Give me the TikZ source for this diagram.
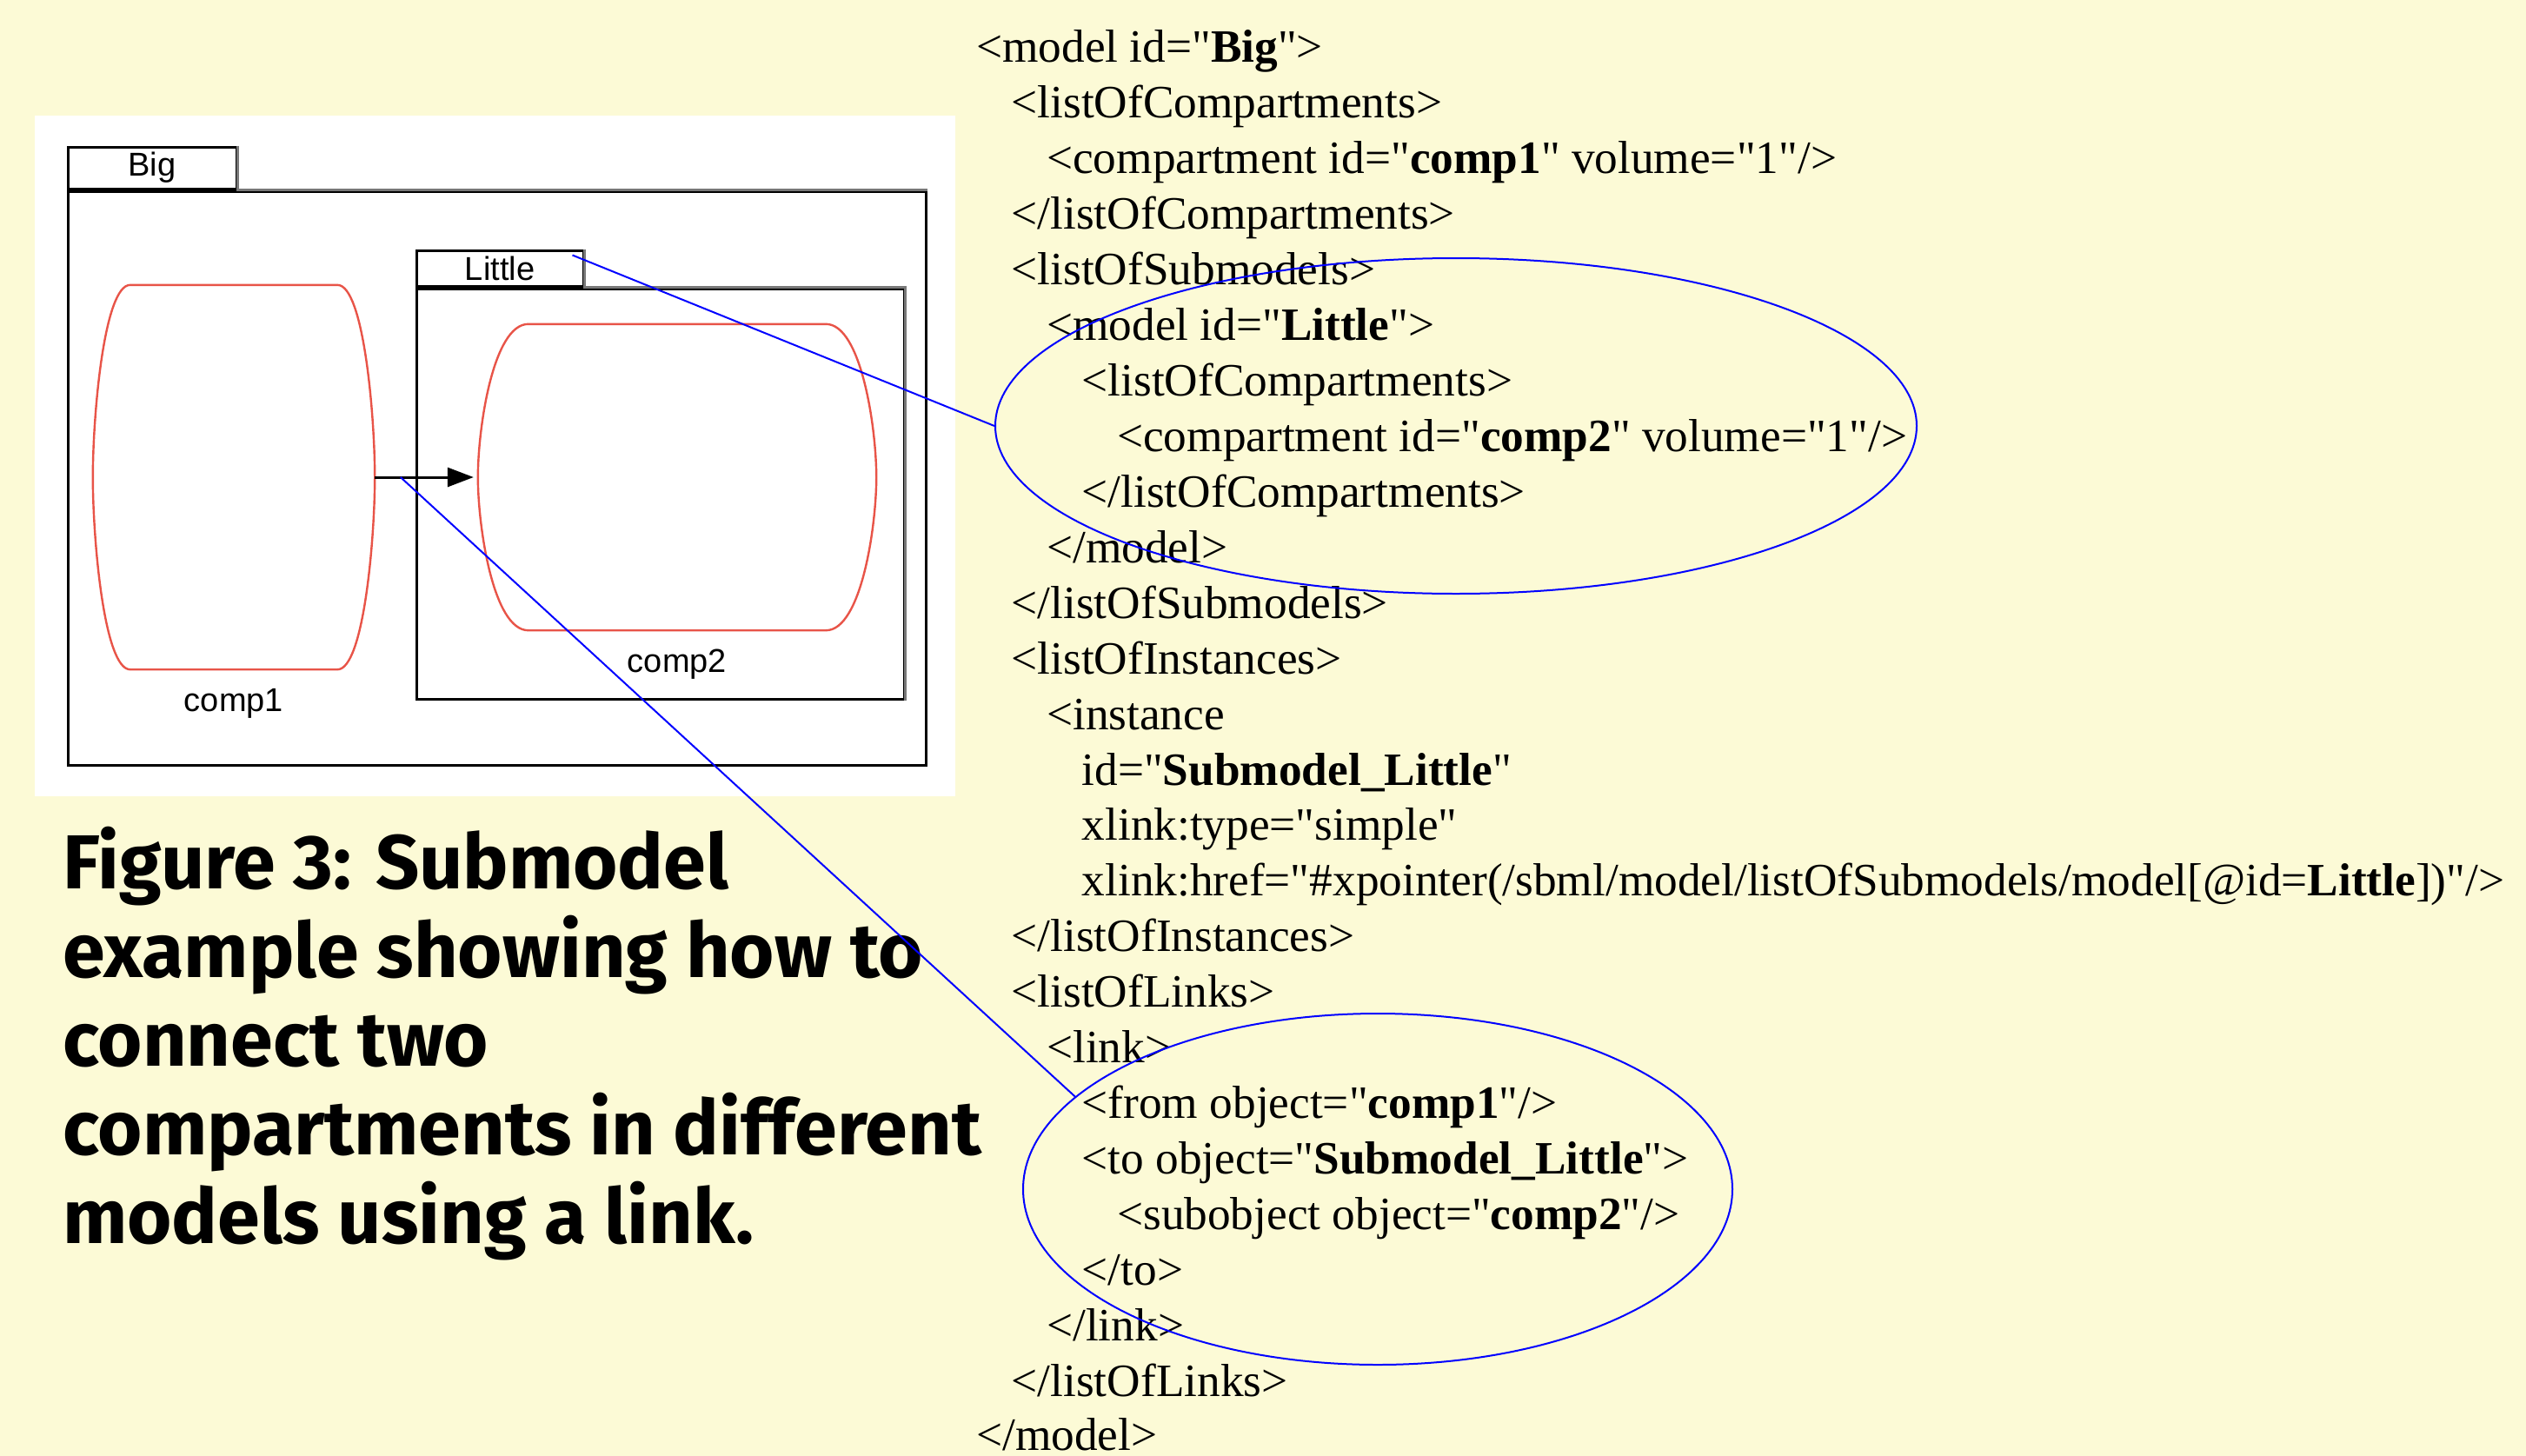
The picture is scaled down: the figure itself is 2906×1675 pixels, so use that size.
\documentclass[tikz,border=0pt]{standalone}
\usepackage{fontspec}
\setmainfont{Liberation Serif}[Ligatures=TeXOff]
\newfontfamily\diagfont{Liberation Sans}
\newfontfamily\capfont{Fira Sans}
\usetikzlibrary{arrows.meta,positioning,calc,shapes.geometric}
\definecolor{paper}{RGB}{252,250,214}
\definecolor{compRed}{RGB}{232,84,72}
\definecolor{linkBlue}{RGB}{0,0,255}
\definecolor{shadeGray}{RGB}{120,120,120}

% barrel-shaped compartment outline round a node: #1 node, #2 corner inset, #3 bend depth
\newcommand{\compoutline}[3]{%
  \draw[compline] ($(#1.north west)+(#2,0)$) -- ($(#1.north east)+(-#2,0)$)
    .. controls ($(#1.north east)+(-0.3*#2,0)$) and ($(#1.north east)+(0,#3)$) .. (#1.east)
    .. controls ($(#1.south east)+(0,-#3)$) and ($(#1.south east)+(-0.3*#2,0)$) .. ($(#1.south east)+(-#2,0)$)
    -- ($(#1.south west)+(#2,0)$)
    .. controls ($(#1.south west)+(0.3*#2,0)$) and ($(#1.south west)+(0,-#3)$) .. (#1.west)
    .. controls ($(#1.north west)+(0,#3)$) and ($(#1.north west)+(0.3*#2,0)$) .. cycle;}

\begin{document}
\begin{tikzpicture}[
        x=1pt, y=-1pt,
        frame/.style={rectangle, draw=black, line width=3pt, inner sep=0pt},
        tab/.style={rectangle, draw=black, fill=white, line width=3pt, inner sep=0pt, font=\diagfont\fontsize{38}{40}\selectfont},
        shadow/.style={draw=shadeGray, line width=3pt},
        comp/.style={rectangle, inner sep=0pt},
        compline/.style={draw=compRed, line width=2.4pt},
        complabel/.style={inner sep=0pt, font=\diagfont\fontsize{38}{40}\selectfont},
        code/.style={anchor=base west, inner sep=0pt, font=\fontsize{53.3}{64}\selectfont},
        caption/.style={align=left, inner sep=0pt, font=\capfont\bfseries\fontsize{88}{102}\selectfont},
        note/.style={ellipse, draw=linkBlue, line width=2pt, inner sep=0pt},
        pointer/.style={draw=linkBlue, line width=2pt},
        arrow/.style={-{Triangle[length=30pt,width=22pt]}, line width=3pt}
    ]
        % Page
        \useasboundingbox[fill=paper] (0,0) rectangle (2906,1675);
        \fill[white] (40,133) rectangle (1099,916);

        % Models
        \node[frame, minimum width=987pt, minimum height=660pt] (bigbox) at (571.5,550) {};
        \node[tab, minimum width=194pt, minimum height=48pt, anchor=south west] (bigtab) at (bigbox.north west) {Big};
        \node[frame, minimum width=561pt, minimum height=472pt] (littlebox) at (759.5,568) {};
        \node[tab, minimum width=192pt, minimum height=41pt, anchor=south west] (littletab) at (littlebox.north west) {Little};
        \draw[shadow] (bigtab.north east) -- (bigtab.south east) -- (bigbox.north east);
        \draw[shadow] (littletab.north east) -- (littletab.south east) -- (littlebox.north east) -- (littlebox.south east);

        % Compartments
        \node[comp, minimum width=324pt, minimum height=442pt] (comp1box) at (269,549) {};
        \node[comp, minimum width=458pt, minimum height=352pt] (comp2box) at (779,549) {};
        \compoutline{comp1box}{43}{150}
        \compoutline{comp2box}{58}{120}
        \node[complabel, below=22pt of comp1box] (comp1lbl) {comp1};
        \node[complabel, below=22pt of comp2box] (comp2lbl) {comp2};
        \draw[arrow, shorten >=5pt] (comp1box.east) -- (comp2box.west);

        % SBML listing
        \node[code] (code01) at (1123,72) {<model id="\textbf{Big}">};
        \node[code] (code02) at (1163.5,135.9) {<listOfCompartments>};
        \node[code] (code03) at (1204,199.8) {<compartment id="\textbf{comp1}" volume="1"/>};
        \node[code] (code04) at (1163.5,263.8) {</listOfCompartments>};
        \node[code] (code05) at (1163.5,327.7) {<listOfSubmodels>};
        \node[code] (code06) at (1204,391.6) {<model id="\textbf{Little}">};
        \node[code] (code07) at (1244.5,455.5) {<listOfCompartments>};
        \node[code] (code08) at (1285,519.4) {<compartment id="\textbf{comp2}" volume="1"/>};
        \node[code] (code09) at (1244.5,583.4) {</listOfCompartments>};
        \node[code] (code10) at (1204,647.3) {</model>};
        \node[code] (code11) at (1163.5,711.2) {</listOfSubmodels>};
        \node[code] (code12) at (1163.5,775.1) {<listOfInstances>};
        \node[code] (code13) at (1204,839) {<instance};
        \node[code] (code14) at (1244.5,903) {id="\textbf{Submodel\_Little}"};
        \node[code] (code15) at (1244.5,966.9) {xlink:type="simple"};
        \node[code] (code16) at (1244.5,1030.8) {xlink:href="\#xpointer(/sbml/model/listOfSubmodels/model[@id=\textbf{Little}])"/>};
        \node[code] (code17) at (1163.5,1094.7) {</listOfInstances>};
        \node[code] (code18) at (1163.5,1158.6) {<listOfLinks>};
        \node[code] (code19) at (1204,1222.6) {<link>};
        \node[code] (code20) at (1244.5,1286.5) {<from object="\textbf{comp1}"/>};
        \node[code] (code21) at (1244.5,1350.4) {<to object="\textbf{Submodel\_Little}">};
        \node[code] (code22) at (1285,1414.3) {<subobject object="\textbf{comp2}"/>};
        \node[code] (code23) at (1244.5,1478.2) {</to>};
        \node[code] (code24) at (1204,1542.2) {</link>};
        \node[code] (code25) at (1163.5,1606.1) {</listOfLinks>};
        \node[code] (code26) at (1123,1668) {</model>};

        % Caption
        \node[caption, anchor=base west] (caption) at (72,1430) {Figure 3: Submodel\\example showing how to\\connect two\\compartments in different\\models using a link.};

        % Highlights
        \node[note, minimum width=1060pt, minimum height=386pt] (subell) at (1675,490) {};
        \node[note, minimum width=816pt, minimum height=404pt] (linkell) at (1585,1368) {};
        \coordinate (tabpt) at ($(littletab.north east)+(-14,7)$);
        \coordinate (linkpt) at ($(comp1box.east)!0.25!(comp2box.west)$);
        \draw[pointer] (tabpt) -- (subell.west);
        \draw[pointer] (linkpt) -- (linkell.163);
    \end{tikzpicture}
\end{document}
